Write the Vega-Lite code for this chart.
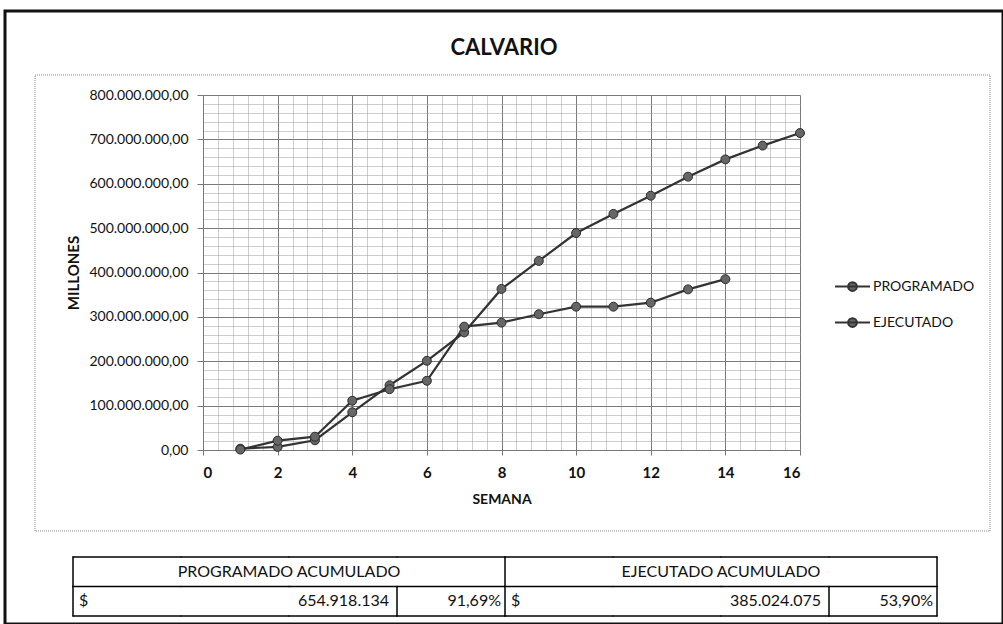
{
  "$schema": "https://vega.github.io/schema/vega-lite/v6.json",
  "background": "white",
  "autosize": {"type": "none"},
  "padding": {"left": 5, "top": 11, "right": 0, "bottom": 0},
  "width": 998,
  "height": 613,
  "view": {"stroke": "#111111", "strokeWidth": 3},
  "config": {
    "locale": {"number": {"decimal": ",", "thousands": ".", "grouping": [3], "currency": ["$", ""]}},
    "font": "Lato"
  },
  "title": {"text": "CALVARIO", "font": "Lato", "fontSize": 22, "fontWeight": "bold", "color": "#111", "anchor": "middle", "frame": "group", "offset": -49},
  "datasets": {
    "curva": [
      {"semana": 1, "serie": "PROGRAMADO", "valor": 3000000},
      {"semana": 2, "serie": "PROGRAMADO", "valor": 7000000},
      {"semana": 3, "serie": "PROGRAMADO", "valor": 22000000},
      {"semana": 4, "serie": "PROGRAMADO", "valor": 85000000},
      {"semana": 5, "serie": "PROGRAMADO", "valor": 146000000},
      {"semana": 6, "serie": "PROGRAMADO", "valor": 201000000},
      {"semana": 7, "serie": "PROGRAMADO", "valor": 265000000},
      {"semana": 8, "serie": "PROGRAMADO", "valor": 363000000},
      {"semana": 9, "serie": "PROGRAMADO", "valor": 426000000},
      {"semana": 10, "serie": "PROGRAMADO", "valor": 489000000},
      {"semana": 11, "serie": "PROGRAMADO", "valor": 532000000},
      {"semana": 12, "serie": "PROGRAMADO", "valor": 573000000},
      {"semana": 13, "serie": "PROGRAMADO", "valor": 616000000},
      {"semana": 14, "serie": "PROGRAMADO", "valor": 654918134},
      {"semana": 15, "serie": "PROGRAMADO", "valor": 686000000},
      {"semana": 16, "serie": "PROGRAMADO", "valor": 714300000},
      {"semana": 1, "serie": "EJECUTADO", "valor": 1000000},
      {"semana": 2, "serie": "EJECUTADO", "valor": 21000000},
      {"semana": 3, "serie": "EJECUTADO", "valor": 30000000},
      {"semana": 4, "serie": "EJECUTADO", "valor": 111000000},
      {"semana": 5, "serie": "EJECUTADO", "valor": 137000000},
      {"semana": 6, "serie": "EJECUTADO", "valor": 156000000},
      {"semana": 7, "serie": "EJECUTADO", "valor": 278000000},
      {"semana": 8, "serie": "EJECUTADO", "valor": 287000000},
      {"semana": 9, "serie": "EJECUTADO", "valor": 306000000},
      {"semana": 10, "serie": "EJECUTADO", "valor": 323000000},
      {"semana": 11, "serie": "EJECUTADO", "valor": 323000000},
      {"semana": 12, "serie": "EJECUTADO", "valor": 332000000},
      {"semana": 13, "serie": "EJECUTADO", "valor": 362000000},
      {"semana": 14, "serie": "EJECUTADO", "valor": 385024075}
    ],
    "tabla": [
      {"tipo": "titulo", "fila": "enc", "col": "A", "t": "PROGRAMADO ACUMULADO"},
      {"tipo": "titulo", "fila": "enc", "col": "E", "t": "EJECUTADO ACUMULADO"},
      {"tipo": "signo", "fila": "dat", "col": "A", "t": "$"},
      {"tipo": "valor", "fila": "dat", "col": "A", "t": "654.918.134"},
      {"tipo": "porcentaje", "fila": "dat", "col": "D", "t": "91,69%"},
      {"tipo": "signo", "fila": "dat", "col": "E", "t": "$"},
      {"tipo": "valor", "fila": "dat", "col": "E", "t": "385.024.075"},
      {"tipo": "porcentaje", "fila": "dat", "col": "H", "t": "53,90%"}
    ],
    "bordeSuperior": [
      {"fila": "enc", "col": "A"}, {"fila": "enc", "col": "B"}, {"fila": "enc", "col": "C"}, {"fila": "enc", "col": "D"},
      {"fila": "enc", "col": "E"}, {"fila": "enc", "col": "F"}, {"fila": "enc", "col": "G"}, {"fila": "enc", "col": "H"},
      {"fila": "dat", "col": "A"}, {"fila": "dat", "col": "B"}, {"fila": "dat", "col": "C"}, {"fila": "dat", "col": "D"},
      {"fila": "dat", "col": "E"}, {"fila": "dat", "col": "F"}, {"fila": "dat", "col": "G"}, {"fila": "dat", "col": "H"}
    ],
    "bordeInferior": [
      {"fila": "dat", "col": "A"}, {"fila": "dat", "col": "B"}, {"fila": "dat", "col": "C"}, {"fila": "dat", "col": "D"},
      {"fila": "dat", "col": "E"}, {"fila": "dat", "col": "F"}, {"fila": "dat", "col": "G"}, {"fila": "dat", "col": "H"}
    ],
    "bordeIzquierdo": [
      {"fila": "enc", "col": "A"}, {"fila": "enc", "col": "E"},
      {"fila": "dat", "col": "A"}, {"fila": "dat", "col": "D"}, {"fila": "dat", "col": "E"}, {"fila": "dat", "col": "H"}
    ],
    "bordeDerecho": [
      {"fila": "enc", "col": "H"}, {"fila": "dat", "col": "H"}
    ]
  },
  "data": {"name": "curva"},
  "resolve": {"scale": {"x": "independent", "y": "independent"}, "axis": {"x": "independent", "y": "independent"}},
  "layer": [
    {
      "data": {"values": [{"area": "grafico"}]},
      "mark": {"type": "rect", "fill": null, "fillOpacity": 0, "stroke": "#8a8a8a", "strokeWidth": 1, "strokeDash": [1, 1]},
      "encoding": {
        "x": {"field": "area", "type": "nominal", "axis": null,
          "scale": {"type": "band", "domain": ["grafico"], "paddingInner": 0, "paddingOuter": 0, "range": [30, 985]}},
        "y": {"field": "area", "type": "nominal", "axis": null,
          "scale": {"type": "band", "domain": ["grafico"], "paddingInner": 0, "paddingOuter": 0, "range": [64, 520]}}
      }
    },
    {
      "mark": {"type": "point", "opacity": 0},
      "encoding": {
        "x": {"field": "semana", "type": "quantitative", "scale": {"domain": [0, 16], "nice": false, "zero": false, "range": [198, 795]},
          "axis": {"orient": "top", "values": [0.4,0.8,1.2,1.6,2.4,2.8,3.2,3.6,4.4,4.8,5.2,5.6,6.4,6.8,7.2,7.6,8.4,8.8,9.2,9.6,10.4,10.8,11.2,11.6,12.4,12.8,13.2,13.6,14.4,14.8,15.2,15.6],
            "labels": false, "ticks": false, "domain": false, "title": null, "grid": true, "gridColor": "#9a9a9a", "gridDash": [1, 1], "gridWidth": 1}},
        "y": {"field": "valor", "type": "quantitative", "scale": {"domain": [0, 800000000], "nice": false, "range": [439, 84]},
          "axis": {"orient": "left", "offset": -198, "values": [20000000,40000000,60000000,80000000,120000000,140000000,160000000,180000000,220000000,240000000,260000000,280000000,320000000,340000000,360000000,380000000,420000000,440000000,460000000,480000000,520000000,540000000,560000000,580000000,620000000,640000000,660000000,680000000,720000000,740000000,760000000,780000000],
            "labels": false, "ticks": false, "domain": false, "title": null, "grid": true, "gridColor": "#9a9a9a", "gridDash": [1, 1], "gridWidth": 1}}
      }
    },
    {
      "mark": {"type": "point", "opacity": 0},
      "encoding": {
        "x": {"field": "semana", "type": "quantitative", "scale": {"domain": [0, 16], "nice": false, "zero": false, "range": [198, 795]},
          "axis": {"orient": "top", "values": [2,4,6,8,10,12,14,16], "labels": false, "ticks": false, "domain": false, "title": null, "grid": true, "gridColor": "#7a7a7a", "gridWidth": 1}},
        "y": {"field": "valor", "type": "quantitative", "scale": {"domain": [0, 800000000], "nice": false, "range": [439, 84]}, "axis": null}
      }
    },
    {
      "mark": {"type": "line", "strokeWidth": 2.2},
      "encoding": {
        "x": {"field": "semana", "type": "quantitative", "scale": {"domain": [0, 16], "nice": false, "zero": false, "range": [198, 795]},
          "axis": {"orient": "bottom", "offset": -174, "values": [0,2,4,6,8,10,12,14,16], "title": "SEMANA", "titleFont": "Lato", "titleFontSize": 14, "titleFontWeight": "bold", "titleColor": "#111", "titlePadding": 12,
            "labelFont": "Lato", "labelFontSize": 15, "labelFontWeight": "bold", "labelColor": "#111", "labelPadding": 10, "tickSize": 5, "tickColor": "#777", "domainColor": "#777",
            "grid": false}},
        "y": {"field": "valor", "type": "quantitative", "scale": {"domain": [0, 800000000], "nice": false, "range": [439, 84]},
          "axis": {"orient": "left", "offset": -198, "values": [0,100000000,200000000,300000000,400000000,500000000,600000000,700000000,800000000], "format": ",.2f", "title": "MILLONES", "titleFont": "Lato", "titleFontSize": 15, "titleFontWeight": "bold", "titleColor": "#111", "titlePadding": 7,
            "labelFont": "Lato", "labelFontSize": 14, "labelColor": "#111", "labelPadding": 9, "tickSize": 6, "tickColor": "#777", "domainColor": "#777",
            "grid": true, "gridColor": "#7a7a7a", "gridWidth": 1}},
        "color": {"field": "serie", "type": "nominal",
          "scale": {"domain": ["PROGRAMADO", "EJECUTADO"], "range": ["#333333", "#333333"]},
          "legend": {"title": null, "orient": "none", "legendX": 829, "legendY": 257, "labelFont": "Lato", "labelFontSize": 14, "labelColor": "#111", "labelOffset": 2,
            "symbolType": "M-1,0H1M0.25,0A0.25,0.25,0,1,1,-0.25,0A0.25,0.25,0,1,1,0.25,0", "symbolSize": 1225, "rowPadding": 9,
            "encode": {"symbols": {"update": {"fill": {"value": "#666666"}, "stroke": {"value": "#333333"}, "strokeWidth": {"value": 2}, "opacity": {"value": 1}}}}}
        }
      }
    },
    {
      "mark": {"type": "point", "filled": true, "fill": "#666666", "stroke": "#2a2a2a", "strokeWidth": 1, "size": 80, "opacity": 1},
      "encoding": {
        "x": {"field": "semana", "type": "quantitative", "scale": {"domain": [0, 16], "nice": false, "zero": false, "range": [198, 795]}, "axis": null},
        "y": {"field": "valor", "type": "quantitative", "scale": {"domain": [0, 800000000], "nice": false, "range": [439, 84]}, "axis": null},
        "detail": {"field": "serie", "type": "nominal"}
      }
    },
    {
      "data": {"name": "tabla"},
      "transform": [{"filter": "datum.tipo == 'titulo'"}],
      "mark": {"type": "text", "font": "Lato", "fontSize": 16, "color": "#111", "align": "center"},
      "encoding": {
        "x": {"field": "col", "type": "nominal", "bandPosition": 2, "axis": null,
          "scale": {"type": "band", "domain": ["A", "B", "C", "D", "E", "F", "G", "H"], "paddingInner": 0, "paddingOuter": 0, "range": [68, 932]}},
        "y": {"field": "fila", "type": "nominal", "axis": null,
          "scale": {"type": "band", "domain": ["enc", "dat"], "paddingInner": 0, "paddingOuter": 0, "range": [546, 605]}},
        "text": {"field": "t"}
      }
    },
    {
      "data": {"name": "tabla"},
      "transform": [{"filter": "datum.tipo == 'signo'"}],
      "mark": {"type": "text", "font": "Lato", "fontSize": 16, "color": "#111", "align": "left", "dx": 6},
      "encoding": {
        "x": {"field": "col", "type": "nominal", "bandPosition": 0, "axis": null,
          "scale": {"type": "band", "domain": ["A", "B", "C", "D", "E", "F", "G", "H"], "paddingInner": 0, "paddingOuter": 0, "range": [68, 932]}},
        "y": {"field": "fila", "type": "nominal", "axis": null,
          "scale": {"type": "band", "domain": ["enc", "dat"], "paddingInner": 0, "paddingOuter": 0, "range": [546, 605]}},
        "text": {"field": "t"}
      }
    },
    {
      "data": {"name": "tabla"},
      "transform": [{"filter": "datum.tipo == 'valor'"}],
      "mark": {"type": "text", "font": "Lato", "fontSize": 16, "color": "#111", "align": "right", "dx": -8},
      "encoding": {
        "x": {"field": "col", "type": "nominal", "bandPosition": 3, "axis": null,
          "scale": {"type": "band", "domain": ["A", "B", "C", "D", "E", "F", "G", "H"], "paddingInner": 0, "paddingOuter": 0, "range": [68, 932]}},
        "y": {"field": "fila", "type": "nominal", "axis": null,
          "scale": {"type": "band", "domain": ["enc", "dat"], "paddingInner": 0, "paddingOuter": 0, "range": [546, 605]}},
        "text": {"field": "t"}
      }
    },
    {
      "data": {"name": "tabla"},
      "transform": [{"filter": "datum.tipo == 'porcentaje'"}],
      "mark": {"type": "text", "font": "Lato", "fontSize": 16, "color": "#111", "align": "right", "dx": -4},
      "encoding": {
        "x": {"field": "col", "type": "nominal", "bandPosition": 1, "axis": null,
          "scale": {"type": "band", "domain": ["A", "B", "C", "D", "E", "F", "G", "H"], "paddingInner": 0, "paddingOuter": 0, "range": [68, 932]}},
        "y": {"field": "fila", "type": "nominal", "axis": null,
          "scale": {"type": "band", "domain": ["enc", "dat"], "paddingInner": 0, "paddingOuter": 0, "range": [546, 605]}},
        "text": {"field": "t"}
      }
    },
    {
      "data": {"name": "bordeSuperior"},
      "mark": {"type": "tick", "color": "#000", "thickness": 1.5, "size": 109, "orient": "horizontal", "opacity": 1},
      "encoding": {
        "x": {"field": "col", "type": "nominal", "axis": null,
          "scale": {"type": "band", "domain": ["A", "B", "C", "D", "E", "F", "G", "H"], "paddingInner": 0, "paddingOuter": 0, "range": [68, 932]}},
        "y": {"field": "fila", "type": "nominal", "bandPosition": 0, "axis": null,
          "scale": {"type": "band", "domain": ["enc", "dat"], "paddingInner": 0, "paddingOuter": 0, "range": [546, 605]}}
      }
    },
    {
      "data": {"name": "bordeInferior"},
      "mark": {"type": "tick", "color": "#000", "thickness": 1.5, "size": 109, "orient": "horizontal", "opacity": 1},
      "encoding": {
        "x": {"field": "col", "type": "nominal", "axis": null,
          "scale": {"type": "band", "domain": ["A", "B", "C", "D", "E", "F", "G", "H"], "paddingInner": 0, "paddingOuter": 0, "range": [68, 932]}},
        "y": {"field": "fila", "type": "nominal", "bandPosition": 1, "axis": null,
          "scale": {"type": "band", "domain": ["enc", "dat"], "paddingInner": 0, "paddingOuter": 0, "range": [546, 605]}}
      }
    },
    {
      "data": {"name": "bordeIzquierdo"},
      "mark": {"type": "tick", "color": "#000", "thickness": 1.5, "size": 30.5, "orient": "vertical", "opacity": 1},
      "encoding": {
        "x": {"field": "col", "type": "nominal", "bandPosition": 0, "axis": null,
          "scale": {"type": "band", "domain": ["A", "B", "C", "D", "E", "F", "G", "H"], "paddingInner": 0, "paddingOuter": 0, "range": [68, 932]}},
        "y": {"field": "fila", "type": "nominal", "axis": null,
          "scale": {"type": "band", "domain": ["enc", "dat"], "paddingInner": 0, "paddingOuter": 0, "range": [546, 605]}}
      }
    },
    {
      "data": {"name": "bordeDerecho"},
      "mark": {"type": "tick", "color": "#000", "thickness": 1.5, "size": 30.5, "orient": "vertical", "opacity": 1},
      "encoding": {
        "x": {"field": "col", "type": "nominal", "bandPosition": 1, "axis": null,
          "scale": {"type": "band", "domain": ["A", "B", "C", "D", "E", "F", "G", "H"], "paddingInner": 0, "paddingOuter": 0, "range": [68, 932]}},
        "y": {"field": "fila", "type": "nominal", "axis": null,
          "scale": {"type": "band", "domain": ["enc", "dat"], "paddingInner": 0, "paddingOuter": 0, "range": [546, 605]}}
      }
    }
  ]
}
